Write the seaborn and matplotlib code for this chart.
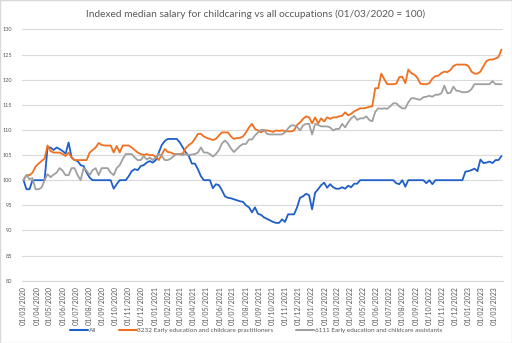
import pandas as pd
import numpy as np
import matplotlib
matplotlib.use("Agg")
import matplotlib.pyplot as plt
import matplotlib.dates as mdates
from matplotlib.lines import Line2D
from matplotlib.patches import Rectangle
import seaborn as sns

title = "Indexed median salary for childcaring vs all occupations (01/03/2020 = 100)"
series_names = ["All",
                "3232 Early education and childcare practitioners",
                "6111 Early education and childcare assistants"]
dates = pd.date_range("2020-03-01", periods=160, freq="7D")

all_occ = [100, 98.2, 98.2, 100, 100, 100, 100, 100, 106.5, 106.5,
           106, 106.5, 106.2, 105.8, 105.3, 107.5, 104.5, 104, 103.8, 103,
           102.8, 101.5, 100.5, 100, 100, 100, 100, 100, 100, 100,
           98.3, 99.2, 100, 100, 100, 100.8, 101.8, 102.2, 102, 102.8,
           103, 103.5, 103.8, 103.5, 104, 105.5, 107, 107.8, 108.2, 108.2,
           108.2, 108.2, 107.5, 106.5, 105.5, 104.8, 103.3, 103.3, 102.2, 100.8,
           100, 100, 100, 98.4, 99.2, 99, 98, 96.8, 96.5, 96.4,
           96.2, 96, 95.8, 95.7, 95, 94.6, 93.6, 94.6, 93.3, 93.1,
           92.6, 92.3, 92, 91.7, 91.5, 91.5, 92.2, 91.7, 93.2, 93.2,
           93.2, 94.6, 96.5, 96.8, 97.3, 97, 94.2, 97.5, 98.2, 99,
           99.5, 98.5, 99.2, 98.6, 98.3, 98.3, 98.6, 98.3, 98.9, 98.6,
           99.3, 99.3, 100, 100, 100, 100, 100, 100, 100, 100,
           100, 100, 100, 100, 99.4, 99.2, 100, 98.7, 100, 100,
           100, 100, 100, 100, 99.4, 100, 99.2, 100, 100, 100,
           100, 100, 100, 100, 100, 100, 100, 101.7, 101.8, 102,
           102.3, 101.8, 104.1, 103.4, 103.5, 103.7, 103.4, 104, 104, 104.8]

practitioners = [100, 101, 101, 101.5, 102.7, 103.3, 103.8, 104.3, 106.9, 105.8,
                 105.5, 105.5, 105.5, 105.2, 104.8, 105.5, 104.5, 104, 104, 104,
                 104, 104, 105.5, 106, 106.5, 107.4, 107, 106.9, 106.9, 106.9,
                 105.5, 106.8, 105.5, 106.9, 106.9, 106.9, 106.5, 106, 105.5, 105.2,
                 105, 105.2, 105, 105, 104.7, 104, 105.1, 106.2, 105.6, 105.5,
                 105.2, 105.2, 105.2, 105.3, 106.4, 107, 107.4, 108.2, 109.2, 109.2,
                 108.7, 108.4, 108.2, 108.0, 108.2, 108.9, 109.5, 109.5, 109.5, 108.7,
                 108.2, 108.4, 108.4, 108.7, 109.5, 110.5, 111.2, 110.2, 109.9, 109.5,
                 109.9, 109.9, 109.8, 109.6, 109.9, 109.8, 109.9, 109.8, 109.7, 109.7,
                 109.9, 111, 111.5, 112.2, 112.7, 112.5, 111.3, 112.5, 111.3, 112.3,
                 111.7, 112.5, 112.2, 112.5, 112.5, 112.7, 112.8, 113.5, 112.9, 113.2,
                 113.7, 114.0, 114.3, 114.3, 114.4, 114.6, 114.7, 118.3, 118.3, 121.2,
                 120.1, 119.1, 119.1, 119.1, 119.2, 120.5, 120.6, 119.3, 122, 121.3,
                 121, 120.4, 119.2, 119.1, 119.1, 119.3, 120.2, 120.7, 120.8, 121.3,
                 121.6, 121.5, 121.9, 122.7, 123, 123, 123, 123, 122.7, 121.6,
                 121.2, 121.2, 121.6, 122.7, 123.7, 124, 124, 124.2, 124.5, 126]

assistants = [100, 101, 100.2, 100.4, 98.2, 98.2, 98.5, 100, 101.2, 100.6,
              101.1, 101.5, 102.4, 101.9, 101, 101, 102.4, 102.4, 101, 100,
              102.4, 101.9, 101, 102, 102.4, 101, 102.4, 102.4, 102.4, 101.5,
              101, 102.4, 103, 104.2, 105.2, 105.2, 105.2, 104.5, 104, 104,
              104.8, 104.1, 104.5, 104, 104.6, 105.2, 104.8, 104, 104, 104.3,
              104.8, 105.2, 105.1, 105, 105.2, 105, 105.1, 105.2, 105.5, 106.5,
              105.5, 105.5, 105.2, 104.7, 105.2, 106, 107.3, 107.9, 107.3, 106.3,
              105.6, 106.2, 106.8, 107.2, 107.2, 108.1, 108.1, 108.9, 109.5, 110,
              110, 109.2, 109.1, 109.1, 109.1, 109.1, 109.1, 109.5, 110.3, 110.9,
              110.9, 110.6, 109.9, 110.9, 111.2, 111.2, 109.1, 111.2, 111, 110.7,
              110.7, 110.7, 110.5, 109.9, 110.2, 110.2, 111.2, 110.5, 111.5, 112.3,
              112.8, 112.0, 112.3, 112.3, 112.7, 112.0, 111.7, 113.6, 114.3, 114.2,
              114.3, 114.2, 114.7, 115.3, 115.3, 114.7, 114.3, 114.3, 115.5, 116.3,
              116.3, 116.1, 116, 116.5, 116.6, 116.8, 116.6, 117, 117, 117.3,
              118.8, 117.3, 117.4, 118.6, 117.8, 117.7, 117.5, 117.5, 117.6, 118.1,
              119.1, 119.1, 119.1, 119.1, 119.1, 119.1, 119.7, 119.1, 119.1, 119.1]

colors = ["#1F5FC8", "#F07020", "#A0A0A0"]

df = pd.concat([
    pd.DataFrame({"date": dates, "value": vals, "series": name})
    for name, vals in zip(series_names, [all_occ, practitioners, assistants])
])

sns.set_style("white")
plt.rcParams['font.family'] = ['Lato', 'DejaVu Sans']

fig = plt.figure(figsize=(5.12, 3.43), dpi=100)
ax = fig.add_axes([22/512, 1 - 280.7/343, 481/512, (280.7 - 29.4)/343])

sns.lineplot(data=df, x="date", y="value", hue="series", palette=colors,
             hue_order=series_names, linewidth=1.3, ax=ax, legend=False)

ax.set_ylim(80, 130)
ax.set_yticks(np.arange(80, 131, 5))
ax.set_xlim(dates[0] - pd.Timedelta(days=3.5), dates[-1] + pd.Timedelta(days=3.5))
ax.xaxis.set_major_locator(mdates.MonthLocator(bymonthday=1))
ax.xaxis.set_major_formatter(mdates.DateFormatter('%d/%m/%Y'))
ax.set_xlabel("")
ax.set_ylabel("")
ax.grid(axis='y', color='#d9d9d9', linewidth=0.8)
ax.grid(axis='x', visible=False)
ax.set_axisbelow(True)
for s in ["left", "right", "top"]:
    ax.spines[s].set_visible(False)
ax.spines["bottom"].set_color('#d9d9d9')
ax.spines["bottom"].set_linewidth(0.8)
ax.tick_params(axis='x', length=3, color='#d9d9d9', width=0.8, labelsize=5.0,
               labelcolor='#595959', labelrotation=90, pad=1)
ax.tick_params(axis='y', length=0, labelsize=4.0, labelcolor='#595959', pad=7)

fig.text(0.5, 1 - 14/343, title, ha='center', va='center', fontsize=7.3, color='#595959')

handles = [Line2D([0], [0], color=c, lw=1.5) for c in colors]
fig.legend(handles, series_names, loc='center', bbox_to_anchor=(0.5, 1 - 330.7/343),
           ncol=3, frameon=False, fontsize=4.6, labelcolor='#595959',
           handlelength=2.8, handletextpad=0.15, columnspacing=3.5)

fig.patches.append(Rectangle((0, 0), 1, 1, transform=fig.transFigure, fill=False,
                             edgecolor='#d9d9d9', linewidth=1))

fig.savefig("out.png", dpi=100)
